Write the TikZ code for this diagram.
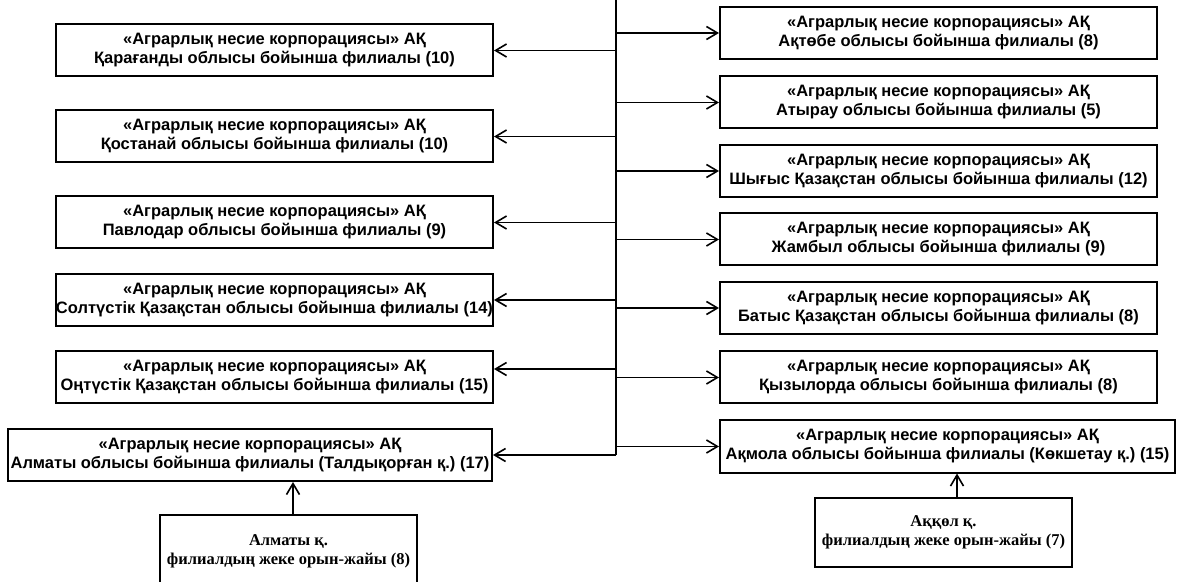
\documentclass[tikz,border=0pt]{standalone}
\usepackage{fontspec}
\setmainfont{Liberation Sans}
\newfontfamily\timesfont{Liberation Serif}
\usetikzlibrary{arrows.meta,positioning}
\frenchspacing

\begin{document}
\begin{tikzpicture}[
x=0.5pt, y=-0.5pt,
branch/.style={draw, line width=1pt, inner sep=0pt, align=center, minimum width=218.5pt, minimum height=26pt, font=\bfseries\fontsize{8.25}{9.5}\selectfont},
office/.style={draw, line width=1pt, inner sep=0pt, align=center, minimum width=128.5pt, font=\timesfont\bfseries\fontsize{8.25}{9.5}\selectfont},
bus/.style={line width=1.2pt},
link/.style={line width=0.8pt, ->},
>={Straight Barb[length=5.5pt,width=6.5pt]}
]
\useasboundingbox (0,0) rectangle (1188,582);
\coordinate (bustop) at (616,0);
\coordinate (busend) at (616,455);
\draw[bus] (bustop) -- (busend);
% left column
\foreach \name/\cy/\ay/\txt in {
  kar/50.5/0pt/Қарағанды облысы бойынша филиалы (10),
  kos/136.5/0pt/Қостанай облысы бойынша филиалы (10),
  pav/222.5/0pt/Павлодар облысы бойынша филиалы (9),
  sol/300/0pt/Солтүстік Қазақстан облысы бойынша филиалы (14),
  oyn/377.5/4.25pt/Оңтүстік Қазақстан облысы бойынша филиалы (15)}
{
  \node[branch] (\name) at (274.5,\cy) {«Аграрлық несие корпорациясы» АҚ\\\txt};
  \coordinate (\name tip) at ([yshift=\ay]\name.east);
  \draw[link] (bustop |- \name tip) -- (\name tip);
}
\node[branch, minimum width=242pt] (alm) at (250,455) {«Аграрлық несие корпорациясы» АҚ\\Алматы облысы бойынша филиалы (Талдықорған қ.) (17)};
\draw[link] (busend) -- (alm.east);
% right column
\foreach \name/\cy/\txt in {
  akt/33/Ақтөбе облысы бойынша филиалы (8),
  aty/102.5/Атырау облысы бойынша филиалы (5),
  shy/171/Шығыс Қазақстан облысы бойынша филиалы (12),
  zha/239.5/Жамбыл облысы бойынша филиалы (9),
  bat/308/Батыс Қазақстан облысы бойынша филиалы (8),
  qyz/377.5/Қызылорда облысы бойынша филиалы (8)}
{
  \node[branch] (\name) at (938.5,\cy) {«Аграрлық несие корпорациясы» АҚ\\\txt};
  \draw[link] (bustop |- \name.west) -- (\name.west);
}
\node[branch, minimum width=227.5pt] (aqm) at (947.5,446.5) {«Аграрлық несие корпорациясы» АҚ\\Ақмола облысы бойынша филиалы (Көкшетау қ.) (15)};
\draw[link] (bustop |- aqm.west) -- (aqm.west);
% separate premises
\node[office, minimum height=36pt] (almcity) at (288.5,551) {Алматы қ.\\филиалдың жеке орын-жайы (8)};
\node[office, minimum height=34.5pt] (aqkol) at (943.5,532.5) {Аққөл қ.\\филиалдың жеке орын-жайы (7)};
\coordinate (almtip) at ([xshift=2.25pt]almcity.north);
\coordinate (aqktip) at ([xshift=6.75pt]aqkol.north);
\draw[link] (almtip) -- (almtip |- alm.south);
\draw[link] (aqktip) -- (aqktip |- aqm.south);
\end{tikzpicture}
\end{document}
